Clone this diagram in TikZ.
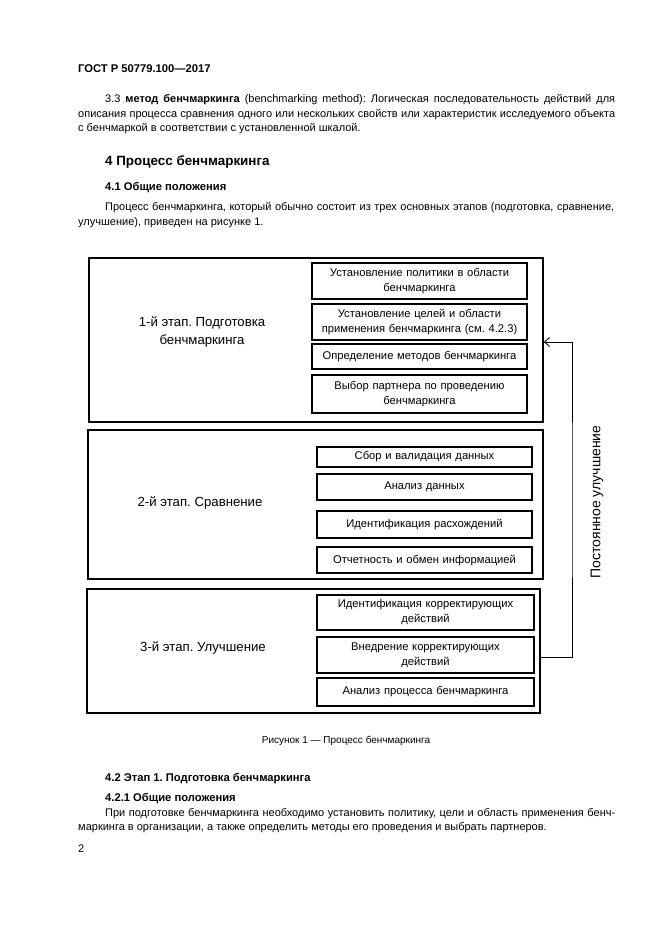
\documentclass[tikz,border=0pt]{standalone}
\usepackage{fontspec}
\setmainfont{Liberation Sans}
\usetikzlibrary{arrows.meta,positioning}
\frenchspacing

\tikzset{
  stagebox/.style={draw,line width=1.8pt},
  stepbox/.style={draw,line width=1.6pt,minimum width=215pt,text width=209pt,
    align=center,inner sep=0pt,font=\fontsize{11.2}{15}\selectfont},
  stagetext/.style={align=center,font=\fontsize{13.2}{18}\selectfont},
  bodytext/.style={anchor=base west,inner sep=0pt,font=\fontsize{11}{14.5}\selectfont},
  headtext/.style={anchor=base west,inner sep=0pt,font=\fontsize{11.2}{14.5}\selectfont\bfseries},
  feedback/.style={line width=0.9pt,-{Straight Barb[length=5pt,width=9pt]}}
}

\begin{document}
\begin{tikzpicture}[x=1pt,y=-1pt]
    \fill[white] (0,0) rectangle (661,935);
    \useasboundingbox (0,0) rectangle (661,935);

    % page text above the figure
    \node[headtext] (gost) at (78,72) {ГОСТ Р 50779.100—2017};
    \node[bodytext] (def1) at (105,102) {\makebox[510pt][s]{3.3 \textbf{метод бенчмаркинга} (benchmarking method): Логическая последовательность действий для}};
    \node[bodytext] (def2) at (78,117) {\makebox[537pt][s]{описания процесса сравнения одного или нескольких свойств или характеристик исследуемого объекта}};
    \node[bodytext] (def3) at (78,131) {с бенчмаркой в соответствии с установленной шкалой.};
    \node[headtext,font=\fontsize{13.4}{15}\selectfont\bfseries] (sec4) at (105,165) {4 Процесс бенчмаркинга};
    \node[headtext] (sec41) at (105,190) {4.1 Общие положения};
    \node[bodytext] (p41a) at (105,210) {\makebox[509pt][s]{Процесс бенчмаркинга, который обычно состоит из трех основных этапов (подготовка, сравнение,}};
    \node[bodytext] (p41b) at (78,225) {улучшение), приведен на рисунке 1.};

    % stage 1
    \node[stagebox,minimum width=454pt,minimum height=164pt] (stage1) at (316,340) {};
    \node[stagetext] (lab1) at (202,332) {1-й этап. Подготовка\\бенчмаркинга};
    \node[stepbox,minimum height=36pt] (b11) at (419.5,281) {Установление политики в области\\бенчмаркинга};
    \node[stepbox,minimum height=36pt] (b12) at (419.5,322) {Установление целей и области\\применения бенчмаркинга (см. 4.2.3)};
    \node[stepbox,minimum height=25pt] (b13) at (419.5,356.5) {Определение методов бенчмаркинга};
    \node[stepbox,minimum height=38pt] (b14) at (419.5,394) {Выбор партнера по проведению\\бенчмаркинга};

    % stage 2
    \node[stagebox,minimum width=455pt,minimum height=149pt] (stage2) at (315.5,504.5) {};
    \node[stagetext] (lab2) at (200,503) {2-й этап. Сравнение};
    \node[stepbox,minimum height=20pt] (b21) at (424.5,457) {Сбор и валидация данных};
    \node[stepbox,minimum height=26pt] (b22) at (424.5,487) {Анализ данных};
    \node[stepbox,minimum height=27pt] (b23) at (424.5,524.5) {Идентификация расхождений};
    \node[stepbox,minimum height=26pt] (b24) at (424.5,560) {Отчетность и обмен информацией};

    % stage 3
    \node[stagebox,minimum width=453pt,minimum height=124pt] (stage3) at (313.5,651) {};
    \node[stagetext] (lab3) at (203,648) {3-й этап. Улучшение};
    \node[stepbox,minimum width=217pt,minimum height=35pt] (b31) at (425.5,612.5) {Идентификация корректирующих\\действий};
    \node[stepbox,minimum width=217pt,minimum height=36pt] (b32) at (425.5,655) {Внедрение корректирующих\\действий};
    \node[stepbox,minimum width=217pt,minimum height=28pt] (b33) at (425.5,692) {Анализ процесса бенчмаркинга};

    % feedback loop
    \coordinate (loop) at (572,500);
    \draw[feedback] ([yshift=-6pt]stage3.east) -| (loop) |- ([yshift=-2pt]stage1.east);
    \node[rotate=90,font=\fontsize{14}{16}\selectfont] (cont) at (597,502) {Постоянное улучшение};

    % page text below the figure
    \node[font=\fontsize{10}{12}\selectfont] (caption) at (346,741) {Рисунок 1 — Процесс бенчмаркинга};
    \node[headtext] (sec42) at (105,781) {4.2 Этап 1. Подготовка бенчмаркинга};
    \node[headtext] (sec421) at (105,801) {4.2.1 Общие положения};
    \node[bodytext] (p42a) at (105,816) {\makebox[510pt][s]{При подготовке бенчмаркинга необходимо установить политику, цели и область применения бенч-}};
    \node[bodytext] (p42b) at (78,830) {маркинга в организации, а также определить методы его проведения и выбрать партнеров.};
    \node[bodytext] (pageno) at (78,852) {2};
\end{tikzpicture}
\end{document}
